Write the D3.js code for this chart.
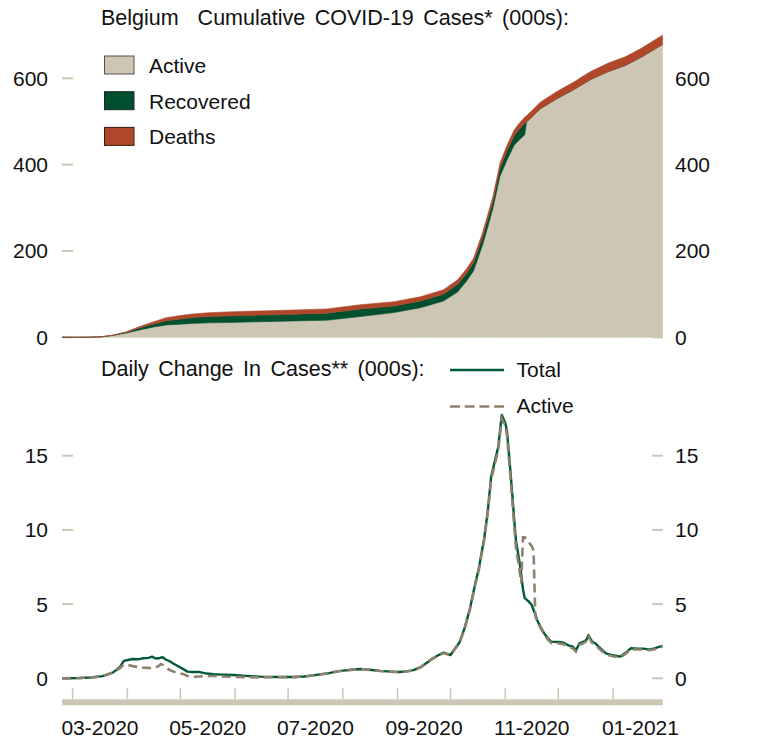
<!DOCTYPE html>
<html>
<head>
<meta charset="utf-8">
<script src="https://cdn.jsdelivr.net/npm/d3@7"></script>
<style>
  html, body { margin: 0; padding: 0; background: #ffffff; }
  svg { display: block; }
  text { font-family: "Liberation Sans", Arial, Helvetica, sans-serif; fill: #111111; }
</style>
</head>
<body>
<svg id="chart" width="759" height="742"></svg>
<script>
// ---------------- DATA (thousands) ----------------
const cumDates = ["2020-02-24","2020-03-05","2020-03-12","2020-03-18","2020-03-24","2020-03-31","2020-04-08","2020-04-16","2020-04-23","2020-05-01","2020-05-08","2020-05-17","2020-05-27","2020-06-15","2020-07-04","2020-07-23","2020-08-11","2020-08-30","2020-09-14","2020-09-27","2020-10-05","2020-10-10","2020-10-14","2020-10-19","2020-10-22","2020-10-25","2020-10-29","2020-11-02","2020-11-06","2020-11-09","2020-11-12","2020-11-13","2020-11-21","2020-11-30","2020-12-10","2020-12-19","2020-12-29","2021-01-08","2021-01-17","2021-01-29"];
const activeCum    = [0, 0.05, 0.4, 1.4, 4.5, 9.5, 17, 24, 28.5, 30.5, 32.1, 33.5, 34.0, 36, 37.8, 39.5, 48.1, 57.3, 68.5, 84, 105, 130, 153.7, 212, 254, 299, 373, 411, 444.8, 457.5, 469, 498.8, 530, 552.5, 574.5, 596.7, 615.4, 630.1, 649.1, 678.5];
const recoveredCum = [0, 0, 0, 0.03, 0.3, 1.7, 5, 7, 10, 12, 13.5, 14.5, 15.3, 15.5, 15.6, 16.5, 17.5, 15.3, 15.5, 16, 18, 18, 19, 18.5, 18.5, 16, 19, 21.5, 22, 25, 27, 0, 0, 0, 0, 0, 0, 0, 0, 0];
const deathsCum    = [0, 0, 0, 0.01, 0.1, 0.8, 3, 5, 7, 7.8, 8.4, 9.0, 9.3, 9.6, 9.7, 9.8, 9.9, 9.9, 9.96, 10, 10.1, 10.15, 10.3, 10.5, 10.7, 10.9, 11.5, 12.5, 13.2, 13.8, 14, 14.2, 15.3, 16.5, 17.5, 18.3, 19.3, 19.9, 20.4, 21.5];

const dailyDates = ["2020-02-24","2020-03-05","2020-03-12","2020-03-18","2020-03-24","2020-03-28","2020-03-30","2020-04-02","2020-04-04","2020-04-07","2020-04-10","2020-04-13","2020-04-15","2020-04-17","2020-04-19","2020-04-20","2020-04-21","2020-04-23","2020-04-25","2020-04-27","2020-04-30","2020-05-03","2020-05-05","2020-05-08","2020-05-12","2020-05-16","2020-05-20","2020-05-25","2020-05-31","2020-06-07","2020-06-15","2020-06-25","2020-07-04","2020-07-10","2020-07-15","2020-07-20","2020-07-23","2020-07-28","2020-08-01","2020-08-06","2020-08-11","2020-08-16","2020-08-22","2020-08-28","2020-09-02","2020-09-07","2020-09-10","2020-09-14","2020-09-17","2020-09-21","2020-09-24","2020-09-27","2020-10-01","2020-10-04","2020-10-06","2020-10-09","2020-10-12","2020-10-15","2020-10-17","2020-10-20","2020-10-22","2020-10-24","2020-10-26","2020-10-28","2020-10-30","2020-11-01","2020-11-02","2020-11-04","2020-11-06","2020-11-07","2020-11-09","2020-11-10","2020-11-11","2020-11-12","2020-11-14","2020-11-16","2020-11-17","2020-11-18","2020-11-19","2020-11-21","2020-11-23","2020-11-25","2020-11-27","2020-12-01","2020-12-04","2020-12-07","2020-12-09","2020-12-11","2020-12-13","2020-12-15","2020-12-17","2020-12-18","2020-12-20","2020-12-22","2020-12-25","2020-12-28","2021-01-01","2021-01-05","2021-01-08","2021-01-11","2021-01-15","2021-01-18","2021-01-21","2021-01-24","2021-01-27","2021-01-29"];
const dailyTotal  = [0, 0.02, 0.06, 0.15, 0.4, 0.78, 1.17, 1.25, 1.3, 1.28, 1.35, 1.38, 1.46, 1.33, 1.35, 1.4, 1.42, 1.25, 1.15, 1.0, 0.8, 0.6, 0.45, 0.42, 0.42, 0.32, 0.27, 0.25, 0.22, 0.16, 0.11, 0.09, 0.09, 0.12, 0.2, 0.28, 0.32, 0.45, 0.52, 0.58, 0.63, 0.58, 0.5, 0.45, 0.42, 0.48, 0.55, 0.75, 1.0, 1.35, 1.55, 1.73, 1.57, 2.1, 2.4, 3.4, 4.7, 6.4, 7.4, 9.4, 11.2, 13.6, 14.6, 15.6, 17.75, 17.2, 16.6, 13.8, 10.8, 9.3, 7.86, 7.0, 6.0, 5.4, 5.2, 4.94, 4.6, 4.3, 3.93, 3.45, 3.03, 2.7, 2.47, 2.45, 2.4, 2.2, 2.15, 1.9, 2.35, 2.45, 2.6, 2.92, 2.5, 2.35, 2.0, 1.68, 1.55, 1.46, 1.7, 2.02, 2.0, 2.0, 1.95, 2.0, 2.12, 2.18];
const dailyActive = [0, 0.02, 0.06, 0.14, 0.38, 0.7, 0.94, 0.88, 0.82, 0.76, 0.72, 0.7, 0.67, 0.72, 0.85, 0.96, 0.9, 0.7, 0.56, 0.45, 0.35, 0.27, 0.15, 0.1, 0.12, 0.15, 0.15, 0.12, 0.1, 0.08, 0.06, 0.07, 0.08, 0.11, 0.19, 0.27, 0.31, 0.44, 0.51, 0.57, 0.62, 0.57, 0.49, 0.44, 0.41, 0.47, 0.54, 0.74, 0.98, 1.33, 1.53, 1.7, 1.55, 2.05, 2.35, 3.35, 4.65, 6.3, 7.3, 9.3, 11.1, 13.4, 14.4, 15.4, 17.5, 17.0, 16.3, 13.4, 10.3, 8.8, 7.3, 6.4, 9.5, 9.5, 9.2, 8.9, 8.6, 4.2, 3.85, 3.4, 2.95, 2.62, 2.38, 2.36, 2.3, 2.1, 2.05, 1.8, 2.25, 2.35, 2.5, 2.82, 2.4, 2.25, 1.9, 1.6, 1.48, 1.4, 1.64, 1.95, 1.94, 1.94, 1.9, 1.94, 2.06, 2.12];

const topTicks = [0, 200, 400, 600];
const bottomTicks = [0, 5, 10, 15];
const xLabels = ["03-2020", "05-2020", "07-2020", "09-2020", "11-2020", "01-2021"];
const seriesNames = ["Active", "Recovered", "Deaths"];
const lineNames = ["Total", "Active"];

// ---------------- STYLE ----------------
const C = {
  active: "#cdc6b4",
  recovered: "#005030",
  deaths: "#b0472a",
  total: "#005a35",
  activeLine: "#8e826c",
  axis: "#cdc6b4"
};
const FONT = 21;
const TITLE_FONT = 21.5;
const WS = "3.5px";

const parse = d3.utcParse("%Y-%m-%d");
const svg = d3.select("#chart");

const x = d3.scaleUtc()
  .domain([parse("2020-02-24"), parse("2021-01-29")])
  .range([62, 662.5]);

const yTop = d3.scaleLinear().domain([0, 600]).range([337.3, 78.3]);
const yBot = d3.scaleLinear().domain([0, 15]).range([678.3, 455.7]);

// ---------- TOP PANEL ----------
const cumRows = cumDates.map((d, i) => ({
  date: parse(d), active: activeCum[i], recovered: recoveredCum[i], deaths: deathsCum[i]
}));
const stack = d3.stack().keys(["active", "recovered", "deaths"]);
const stacked = stack(cumRows);

const gTopTicks = svg.append("g");
topTicks.forEach(t => {
  gTopTicks.append("line").attr("x1", 62).attr("x2", 73).attr("y1", yTop(t)).attr("y2", yTop(t))
    .attr("stroke", C.axis).attr("stroke-width", 2);
  gTopTicks.append("line").attr("x1", 652).attr("x2", 663).attr("y1", yTop(t)).attr("y2", yTop(t))
    .attr("stroke", C.axis).attr("stroke-width", 2);
});

const area = d3.area()
  .x(d => x(d.data.date))
  .y0(d => yTop(d[0]))
  .y1(d => yTop(d[1]))
  .curve(d3.curveLinear);

const fills = [C.active, C.recovered, C.deaths];
svg.append("g").selectAll("path").data(stacked).join("path")
  .attr("d", area)
  .attr("fill", (d, i) => fills[i])
  .attr("stroke", (d, i) => fills[i])
  .attr("stroke-width", 0.6);

topTicks.forEach(t => {
  svg.append("text").attr("x", 48).attr("y", yTop(t) + 7.5).attr("text-anchor", "end")
    .attr("font-size", FONT).text(t);
  svg.append("text").attr("x", 675).attr("y", yTop(t) + 7.5).attr("text-anchor", "start")
    .attr("font-size", FONT).text(t);
});

svg.append("text").attr("x", 101).attr("y", 25).attr("font-size", TITLE_FONT)
  .style("white-space", "pre").style("word-spacing", WS)
  .text("Belgium  Cumulative COVID-19 Cases* (000s):");

const swStroke = ["#555048", "#1d2a22", "#3a1a10"];
seriesNames.forEach((n, i) => {
  const yy = 56 + i * 35.7;
  svg.append("rect").attr("x", 104.5).attr("y", yy).attr("width", 29.5).attr("height", 18)
    .attr("fill", fills[i]).attr("stroke", swStroke[i]).attr("stroke-width", 1);
  svg.append("text").attr("x", 149).attr("y", yy + 17).attr("font-size", FONT).text(n);
});

// ---------- BOTTOM PANEL ----------
const dRows = dailyDates.map((d, i) => ({ date: parse(d), total: dailyTotal[i], active: dailyActive[i] }));

const gBotTicks = svg.append("g");
bottomTicks.forEach(t => {
  gBotTicks.append("line").attr("x1", 62).attr("x2", 73).attr("y1", yBot(t)).attr("y2", yBot(t))
    .attr("stroke", C.axis).attr("stroke-width", 2);
  gBotTicks.append("line").attr("x1", 652).attr("x2", 663).attr("y1", yBot(t)).attr("y2", yBot(t))
    .attr("stroke", C.axis).attr("stroke-width", 2);
  svg.append("text").attr("x", 48).attr("y", yBot(t) + 7.5).attr("text-anchor", "end")
    .attr("font-size", FONT).text(t);
  svg.append("text").attr("x", 675).attr("y", yBot(t) + 7.5).attr("text-anchor", "start")
    .attr("font-size", FONT).text(t);
});

const lineTotal = d3.line().x(d => x(d.date)).y(d => yBot(d.total));
const lineActive = d3.line().x(d => x(d.date)).y(d => yBot(d.active));

svg.append("path").datum(dRows).attr("d", lineTotal)
  .attr("fill", "none").attr("stroke", C.total).attr("stroke-width", 2.4)
  .attr("stroke-linejoin", "round");
svg.append("path").datum(dRows).attr("d", lineActive)
  .attr("fill", "none").attr("stroke", C.activeLine).attr("stroke-width", 2.6)
  .attr("stroke-dasharray", "9,5");

svg.append("text").attr("x", 101).attr("y", 376).attr("font-size", TITLE_FONT)
  .style("word-spacing", WS)
  .text("Daily Change In Cases** (000s):");
svg.append("line").attr("x1", 450).attr("x2", 504).attr("y1", 370).attr("y2", 370)
  .attr("stroke", C.total).attr("stroke-width", 2.4);
svg.append("text").attr("x", 516.5).attr("y", 376.5).attr("font-size", FONT).text(lineNames[0]);
svg.append("line").attr("x1", 450).attr("x2", 504).attr("y1", 406.5).attr("y2", 406.5)
  .attr("stroke", C.activeLine).attr("stroke-width", 2.6).attr("stroke-dasharray", "10,4.7");
svg.append("text").attr("x", 516.5).attr("y", 412.5).attr("font-size", FONT).text(lineNames[1]);

// x axis band + month ticks
svg.append("rect").attr("x", 62).attr("y", 699.3).attr("width", 600.7).attr("height", 6)
  .attr("fill", C.axis);
const months = d3.utcMonth.range(d3.utcMonth.ceil(x.domain()[0]), x.domain()[1]);
svg.append("g").selectAll("line").data(months).join("line")
  .attr("x1", d => x(d)).attr("x2", d => x(d))
  .attr("y1", 688).attr("y2", 699.5)
  .attr("stroke", C.axis).attr("stroke-width", 1.5);

const labelMonths = months.filter((m, i) => i % 2 === 0);
labelMonths.forEach((m, i) => {
  const mid = new Date((m.getTime() + d3.utcMonth.offset(m, 1).getTime()) / 2);
  svg.append("text").attr("x", x(mid)).attr("y", 735).attr("text-anchor", "middle")
    .attr("font-size", FONT).text(xLabels[i]);
});
</script>
</body>
</html>
